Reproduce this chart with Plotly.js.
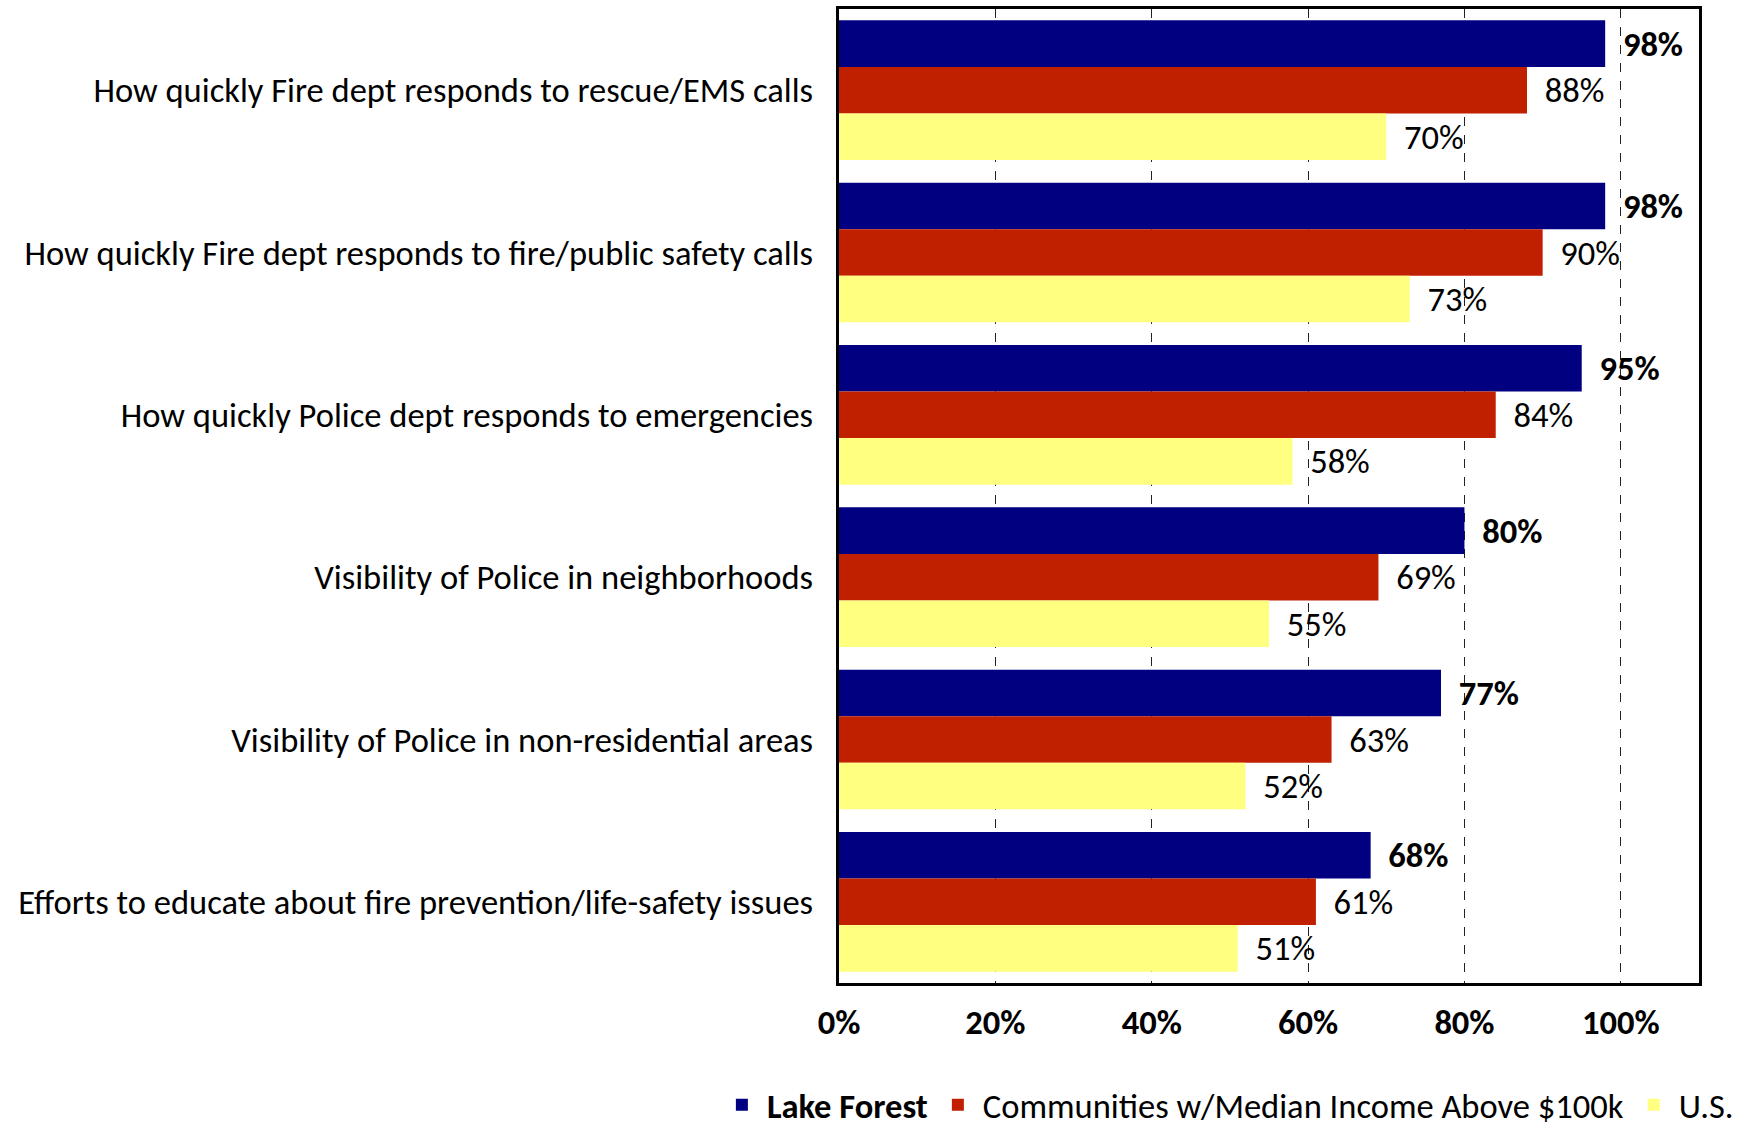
<!DOCTYPE html>
<html>
<head>
<meta charset="utf-8">
<script src="https://cdn.plot.ly/plotly-3.0.1.min.js"></script>
<style>html,body{margin:0;padding:0;background:#fff;}</style>
</head>
<body>
<div id="chart" style="width:1758px;height:1126px;"></div>
<script>
const categories = [
  "How quickly Fire dept responds to rescue/EMS calls",
  "How quickly Fire dept responds to fire/public safety calls",
  "How quickly Police dept responds to emergencies",
  "Visibility of Police in neighborhoods",
  "Visibility of Police in non-residential areas",
  "Efforts to educate about fire prevention/life-safety issues"
];
const seriesNames = ["Lake Forest", "Communities w/Median Income Above $100k", "U.S."];
const lakeForest = [98, 98, 95, 80, 77, 68];
const communities = [88, 90, 84, 69, 63, 61];
const usValues = [70, 73, 58, 55, 52, 51];
const xTickValues = [0, 20, 40, 60, 80, 100];
const xTickLabels = ["0%", "20%", "40%", "60%", "80%", "100%"];

const FONT = "Calibri, Carlito, Lato, sans-serif";
const FS = 34.5;

function barTrace(name, values, color, bold) {
  return {
    type: "bar",
    orientation: "h",
    name: bold ? "<b>" + name + "</b>" : name,
    y: categories,
    x: values,
    marker: {color: color, line: {width: 0}},
    text: values.map(v => v + "%"),
    texttemplate: bold ? "\u00a0\u2009<b>%{text}</b>" : "\u00a0\u2009%{text}",
    textposition: "outside",
    constraintext: "none",
    cliponaxis: false,
    textfont: {family: FONT, size: FS, color: "#000"},
    hoverinfo: "x+y+name"
  };
}

const data = [
  barTrace(seriesNames[0], lakeForest, "#000080", true),
  barTrace(seriesNames[1], communities, "#C02000", false),
  barTrace(seriesNames[2], usValues, "#FFFF80", false)
];

const layout = {
  width: 1758,
  height: 1126,
  paper_bgcolor: "#fff",
  plot_bgcolor: "#fff",
  font: {family: FONT, size: FS, color: "#000"},
  margin: {l: 839, r: 59, t: 9, b: 143, autoexpand: false},
  barmode: "group",
  bargap: 0.14,
  bargroupgap: 0,
  showlegend: true,
  legend: {
    orientation: "h",
    xref: "paper",
    x: -0.142, xanchor: "left",
    yref: "paper",
    y: -0.125, yanchor: "middle",
    font: {family: FONT, size: FS, color: "#000"},
    itemwidth: 40,
    tracegroupgap: 0,
    bgcolor: "rgba(0,0,0,0)"
  },
  xaxis: {
    range: [0, 110],
    tickmode: "array",
    tickvals: xTickValues,
    ticktext: xTickLabels,
    tickfont: {family: FONT, size: FS, color: "#000", weight: "bold"},
    showgrid: true,
    gridcolor: "#222",
    gridwidth: 1,
    griddash: "dash",
    zeroline: false,
    showline: true,
    linecolor: "#000",
    linewidth: 3,
    mirror: true,
    ticks: "",
    ticklabelstandoff: 7,
    fixedrange: true
  },
  yaxis: {
    type: "category",
    autorange: "reversed",
    showgrid: false,
    zeroline: false,
    showline: true,
    linecolor: "#000",
    linewidth: 3,
    mirror: true,
    ticks: "",
    ticklabelstandoff: 16,
    tickfont: {family: FONT, size: FS, color: "#000"},
    fixedrange: true
  }
};

Plotly.newPlot("chart", data, layout, {displayModeBar: false, responsive: false});
</script>
</body>
</html>
